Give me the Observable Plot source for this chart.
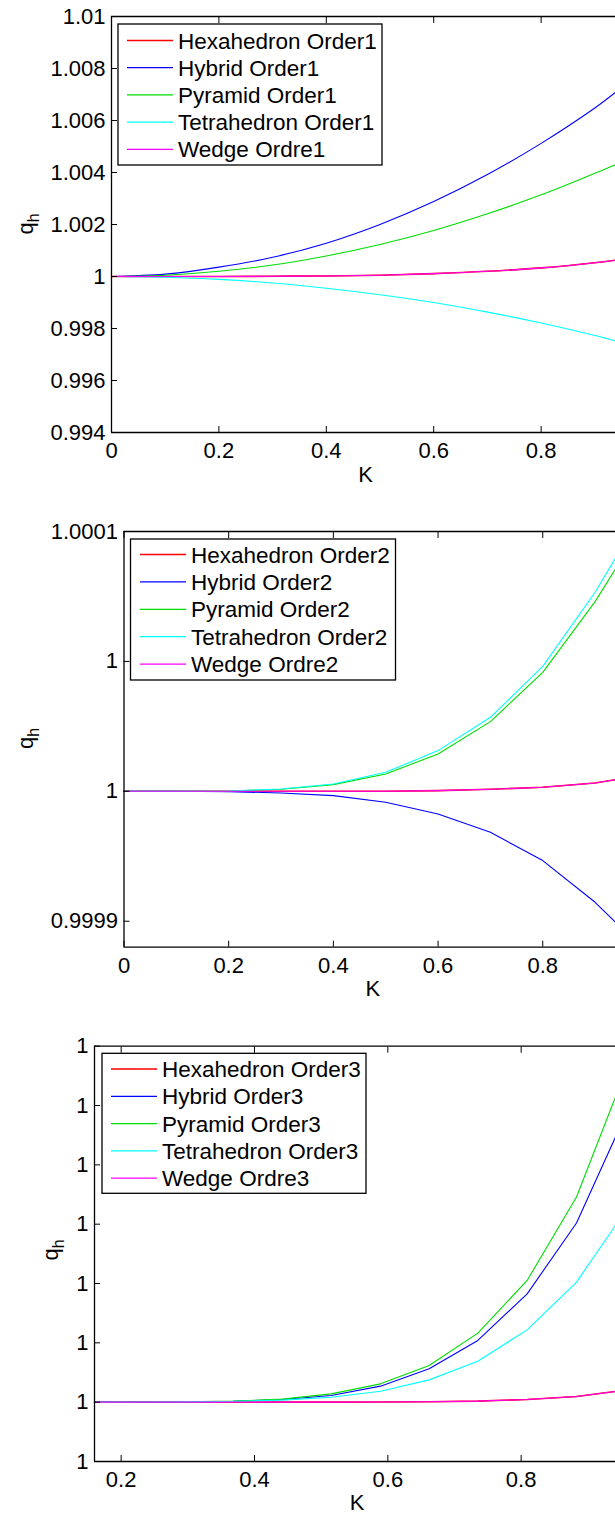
<!DOCTYPE html>
<html>
<head>
<meta charset="utf-8">
<script src="https://cdn.jsdelivr.net/npm/d3@7"></script>
<script src="https://cdn.jsdelivr.net/npm/@observablehq/plot@0.6"></script>
<style>
  html, body { margin: 0; padding: 0; background: #fff; }
  body { width: 615px; height: 1515px; overflow: hidden; position: relative; }
  .panel { position: absolute; left: 0; }
  svg { overflow: visible; }
</style>
</head>
<body>
<div id="p1" class="panel" style="top:0px"></div>
<div id="p2" class="panel" style="top:500px"></div>
<div id="p3" class="panel" style="top:1000px"></div>
<script>
// ---------- shared ----------
const seriesKeys = ["Hexahedron", "Hybrid", "Pyramid", "Tetrahedron", "Wedge"];
const seriesColors = ["#ff0000", "#0000ff", "#00dd00", "#00ffff", "#ff00ff"];
const xAxisLabel = "K";

// ---------- panel 1 (Order 1) ----------
const p1Legend = ["Hexahedron Order1", "Hybrid Order1", "Pyramid Order1", "Tetrahedron Order1", "Wedge Ordre1"];
const p1K = [0, 0.1, 0.2, 0.3, 0.4, 0.5, 0.6, 0.7, 0.8, 0.9, 0.9385];
const p1Hexahedron  = [1, 1, 1, 1.00001, 1.00002, 1.00005, 1.00011, 1.0002, 1.00033, 1.00053, 1.00063];
const p1Hybrid      = [1, 1.00009, 1.00036, 1.00074, 1.00128, 1.002, 1.00288, 1.00392, 1.00512, 1.00648, 1.00708];
const p1Pyramid     = [1, 1.00005, 1.0002, 1.00044, 1.00079, 1.00123, 1.00177, 1.00241, 1.00314, 1.00397, 1.0043];
const p1Tetrahedron = [1, 0.99997, 0.99989, 0.99975, 0.99955, 0.9993, 0.999, 0.99863, 0.99821, 0.99773, 0.99752];
const p1Wedge       = [1, 1, 1, 1.00001, 1.00002, 1.00005, 1.00011, 1.0002, 1.00033, 1.00053, 1.00063];
const p1XTicks = [0, 0.2, 0.4, 0.6, 0.8];
const p1XLabels = ["0", "0.2", "0.4", "0.6", "0.8"];
const p1YTicks = [0.994, 0.996, 0.998, 1, 1.002, 1.004, 1.006, 1.008, 1.01];
const p1YLabels = ["0.994", "0.996", "0.998", "1", "1.002", "1.004", "1.006", "1.008", "1.01"];

// ---------- panel 2 (Order 2) ----------
const p2Legend = ["Hexahedron Order2", "Hybrid Order2", "Pyramid Order2", "Tetrahedron Order2", "Wedge Ordre2"];
const p2K = [0, 0.1, 0.2, 0.3, 0.4, 0.5, 0.6, 0.7, 0.8, 0.9, 0.939];
const p2Hexahedron  = [1, 1, 1, 1, 1, 1, 1.00000027, 1.00000077, 1.00000154, 1.00000319, 1.0000045];
const p2Hybrid      = [1, 1, 0.99999987, 0.99999936, 0.99999834, 0.99999577, 0.99999126, 0.99998422, 0.99997333, 0.99995728, 0.99994958];
const p2Pyramid     = [1, 1, 1.00000012, 1.00000077, 1.00000258, 1.00000666, 1.00001436, 1.00002683, 1.0000458, 1.00007302, 1.00008556];
const p2Tetrahedron = [1, 1, 1.00000012, 1.00000089, 1.00000281, 1.00000731, 1.00001567, 1.00002848, 1.00004811, 1.0000766, 1.0000898];
const p2Wedge       = [1, 1, 1, 1, 1, 1, 1.00000027, 1.00000077, 1.00000154, 1.00000319, 1.0000045];
const p2XTicks = [0, 0.2, 0.4, 0.6, 0.8];
const p2XLabels = ["0", "0.2", "0.4", "0.6", "0.8"];
const p2YTicks = [0.99995, 1, 1.00005, 1.0001];
const p2YLabels = ["0.9999", "1", "1", "1.0001"];

// ---------- panel 3 (Order 3) ----------
const p3Legend = ["Hexahedron Order3", "Hybrid Order3", "Pyramid Order3", "Tetrahedron Order3", "Wedge Ordre3"];
const p3K = [0.16, 0.221, 0.295, 0.368, 0.442, 0.515, 0.589, 0.662, 0.735, 0.809, 0.883, 0.9415];
const p3Hexahedron  = [1, 1, 1, 1, 1, 1, 1.000000003, 1.000000008, 1.000000017, 1.000000046, 1.000000096, 1.00000018];
const p3Hybrid      = [1, 1.000000002, 1.000000005, 1.000000015, 1.000000046, 1.000000113, 1.00000027, 1.000000562, 1.00000104, 1.000001826, 1.000003019, 1.000004469];
const p3Pyramid     = [1, 1.000000002, 1.000000005, 1.000000017, 1.000000051, 1.00000014, 1.000000309, 1.000000619, 1.000001164, 1.000002052, 1.000003457, 1.000005143];
const p3Tetrahedron = [1, 1.000000002, 1.000000005, 1.000000012, 1.000000034, 1.000000084, 1.000000185, 1.000000376, 1.000000691, 1.000001219, 1.000002024, 1.00000298];
const p3Wedge       = [1, 1, 1, 1, 1, 1, 1.000000003, 1.000000008, 1.000000017, 1.000000046, 1.000000096, 1.00000018];
const p3XTicks = [0.2, 0.4, 0.6, 0.8];
const p3XLabels = ["0.2", "0.4", "0.6", "0.8"];
const p3YTicks = [0.999999, 1, 1.000001, 1.000002, 1.000003, 1.000004, 1.000005, 1.000006];
const p3YLabels = ["1", "1", "1", "1", "1", "1", "1", "1"];

// ---------- drawing ----------
const FONT = "'Liberation Sans', Arial, Helvetica, sans-serif";

function drawPanel(cfg) {
  const seriesValues = cfg.values;
  const lineMarks = seriesKeys.map((key, si) => {
    const rows = cfg.K.map((k, i) => ({K: k, q: seriesValues[si][i]}));
    return Plot.line(rows, {
      x: "K", y: "q",
      stroke: seriesColors[si],
      strokeWidth: si === 0 ? 1.6 : 1.1,
      curve: cfg.curve
    });
  });
  const fmt = (ticks, labels) => (d) => labels[ticks.indexOf(d)];
  const chart = Plot.plot({
    width: 615,
    height: cfg.height,
    marginTop: cfg.mt,
    marginBottom: cfg.mb,
    marginLeft: cfg.ml,
    marginRight: 0,
    style: {fontFamily: FONT, fontSize: "22px", color: "#000", background: "#fff"},
    x: {domain: cfg.xDomain},
    y: {domain: cfg.yDomain},
    marks: [
      ...lineMarks,
      Plot.ruleY([cfg.yDomain[1]], {stroke: "#000", strokeWidth: 1.3}),
      Plot.ruleY([cfg.yDomain[0]], {stroke: "#000", strokeWidth: 1.3}),
      Plot.ruleX([cfg.xDomain[0]], {stroke: "#000", strokeWidth: 1.3}),
      Plot.axisX({ticks: cfg.xTicks, tickFormat: fmt(cfg.xTicks, cfg.xLabels), tickSize: 0, tickPadding: 10, label: null, fontSize: 22}),
      Plot.axisX({ticks: cfg.xTicks, anchor: "bottom", tickSize: -6, tickFormat: () => "", label: null}),
      Plot.axisX({ticks: cfg.xTicks, anchor: "top", tickSize: -6, tickFormat: () => "", label: null}),
      Plot.axisY({ticks: cfg.yTicks, tickFormat: fmt(cfg.yTicks, cfg.yLabels), tickSize: 0, tickPadding: 6, label: null, fontSize: 22}),
      Plot.axisY({ticks: cfg.yTicks, anchor: "left", tickSize: -6, tickFormat: () => "", label: null}),
      Plot.text([xAxisLabel], {text: (d) => d, frameAnchor: "bottom", dy: cfg.kDy, dx: cfg.kDx, lineAnchor: "middle", fontSize: 22, fill: "#000"})
    ]
  });
  const svg = d3.select(chart);
  // y-axis label q_h
  const t = svg.append("text")
    .attr("transform", `translate(${cfg.qX},${cfg.qY}) rotate(-90)`)
    .attr("text-anchor", "middle")
    .attr("font-family", FONT)
    .attr("font-size", 22)
    .attr("fill", "#000");
  t.append("tspan").text("q");
  t.append("tspan").attr("font-size", 16).attr("dy", 6).text("h");

  // legend
  const L = cfg.legend;
  const g = svg.append("g").attr("text-anchor", "start");
  g.append("rect")
    .attr("x", L.x).attr("y", L.y).attr("width", L.w).attr("height", L.h)
    .attr("fill", "#fff").attr("stroke", "#000").attr("stroke-width", 1.3);
  cfg.legendNames.forEach((name, i) => {
    const y = L.row0 + i * L.pitch;
    g.append("line")
      .attr("x1", L.lx0).attr("x2", L.lx1).attr("y1", y).attr("y2", y)
      .attr("stroke", seriesColors[i]).attr("stroke-width", 1.3);
    g.append("text")
      .attr("x", L.tx).attr("y", y).attr("dy", "0.36em")
      .attr("text-anchor", "start")
      .attr("font-family", FONT).attr("font-size", 22.5).attr("fill", "#000")
      .text(name);
  });
  document.getElementById(cfg.el).appendChild(chart);
}

drawPanel({
  el: "p1", height: 500, mt: 16, mb: 68, ml: 111,
  xDomain: [0, 0.9385], yDomain: [0.994, 1.01],
  K: p1K, values: [p1Hexahedron, p1Hybrid, p1Pyramid, p1Tetrahedron, p1Wedge],
  curve: "catmull-rom",
  xTicks: p1XTicks, xLabels: p1XLabels, yTicks: p1YTicks, yLabels: p1YLabels,
  kDy: 42, kDx: 2, qX: 33, qY: 224,
  legendNames: p1Legend,
  legend: {x: 118, y: 24, w: 264, h: 141, row0: 40.5, pitch: 27.2, lx0: 127, lx1: 173, tx: 178}
});

drawPanel({
  el: "p2", height: 500, mt: 31, mb: 53.3, ml: 123.5,
  xDomain: [0, 0.939], yDomain: [0.99994, 1.0001],
  K: p2K, values: [p2Hexahedron, p2Hybrid, p2Pyramid, p2Tetrahedron, p2Wedge],
  curve: "linear",
  xTicks: p2XTicks, xLabels: p2XLabels, yTicks: p2YTicks, yLabels: p2YLabels,
  kDy: 41.5, kDx: 3, qX: 33, qY: 238.5,
  legendNames: p2Legend,
  legend: {x: 130.5, y: 39, w: 265, h: 141, row0: 54.5, pitch: 27.4, lx0: 140, lx1: 186, tx: 191}
});

drawPanel({
  el: "p3", height: 515, mt: 45.7, mb: 54, ml: 94,
  xDomain: [0.16, 0.9415], yDomain: [0.999999, 1.000006],
  K: p3K, values: [p3Hexahedron, p3Hybrid, p3Pyramid, p3Tetrahedron, p3Wedge],
  curve: "linear",
  xTicks: p3XTicks, xLabels: p3XLabels, yTicks: p3YTicks, yLabels: p3YLabels,
  kDy: 41, kDx: 2, qX: 58, qY: 250,
  legendNames: p3Legend,
  legend: {x: 102, y: 53.3, w: 264, h: 140, row0: 69, pitch: 27.3, lx0: 111, lx1: 157, tx: 162}
});
</script>
</body>
</html>
